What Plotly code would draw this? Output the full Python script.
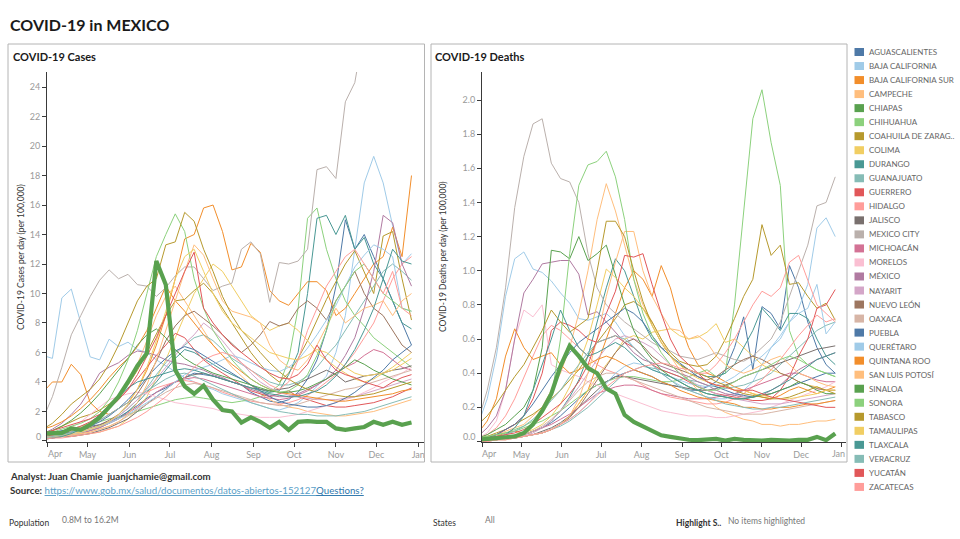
import plotly.graph_objects as go

W, H = 960, 539
def px(x): return x / W
def py(y): return 1 - y / H

# ---------------- data ----------------
dates = ["2020-03-29", "2020-04-05", "2020-04-12", "2020-04-19", "2020-04-26",
         "2020-05-03", "2020-05-10", "2020-05-17", "2020-05-24", "2020-05-31",
         "2020-06-07", "2020-06-14", "2020-06-21", "2020-06-28", "2020-07-05",
         "2020-07-12", "2020-07-19", "2020-07-26", "2020-08-02", "2020-08-09",
         "2020-08-16", "2020-08-23", "2020-08-30", "2020-09-06", "2020-09-13",
         "2020-09-20", "2020-09-27", "2020-10-04", "2020-10-11", "2020-10-18",
         "2020-10-25", "2020-11-01", "2020-11-08", "2020-11-15", "2020-11-22",
         "2020-11-29", "2020-12-06", "2020-12-13", "2020-12-20", "2020-12-27"]

states = ["AGUASCALIENTES", "BAJA CALIFORNIA", "BAJA CALIFORNIA SUR", "CAMPECHE", "CHIAPAS",
          "CHIHUAHUA", "COAHUILA DE ZARAG..", "COLIMA", "DURANGO", "GUANAJUATO", "GUERRERO",
          "HIDALGO", "JALISCO", "MEXICO CITY", "MICHOACÁN", "MORELOS", "MÉXICO", "NAYARIT",
          "NUEVO LEÓN", "OAXACA", "PUEBLA", "QUERÉTARO", "QUINTANA ROO", "SAN LUIS POTOSÍ",
          "SINALOA", "SONORA", "TABASCO", "TAMAULIPAS", "TLAXCALA", "VERACRUZ", "YUCATÁN",
          "ZACATECAS"]

colors = ["#4E79A7", "#A0CBE8", "#F28E2B", "#FFBE7D", "#59A14F", "#8CD17D", "#B6992D",
          "#F1CE63", "#499894", "#86BCB6", "#E15759", "#FF9D9A", "#79706E", "#BAB0AC",
          "#D37295", "#FABFD2", "#B07AA1", "#D4A6C8", "#9D7660", "#D7B5A6",
          "#4E79A7", "#A0CBE8", "#F28E2B", "#FFBE7D", "#59A14F", "#8CD17D", "#B6992D",
          "#F1CE63", "#499894", "#86BCB6", "#E15759", "#FF9D9A"]

highlighted = "CHIAPAS"

month_ticks = ["2020-04-01", "2020-05-01", "2020-06-01", "2020-07-01", "2020-08-01",
               "2020-09-01", "2020-10-01", "2020-11-01", "2020-12-01", "2021-01-01"]
month_labels = ["Apr", "May", "Jun", "Jul", "Aug", "Sep", "Oct", "Nov", "Dec", "Jan"]

cases_ticks = [0, 2, 4, 6, 8, 10, 12, 14, 16, 18, 20, 22, 24]
deaths_ticks = [0.0, 0.2, 0.4, 0.6, 0.8, 1.0, 1.2, 1.4, 1.6, 1.8, 2.0]

# cases per day per 100,000 (weekly)
cases_aguascalientes = [0.5,0.6,0.7,0.8,0.9, 1.0,1.1,1.3,1.6,2.0, 2.4,2.9,3.3,3.6,4.0, 4.3,4.6,4.5,4.4,4.2,
                        4.0,3.8,3.3,3.0,2.7, 2.6,2.8,3.3,4.2,5.5, 7.5,10.5,15.0,13.0,14.0, 12.5,11.0,9.5,8.0,6.5]
cases_baja_california = [5.8,5.6,9.7,10.3,8.0, 5.7,5.5,6.9,6.4,6.7, 6.2,6.0,5.5,5.1,4.7, 4.3,4.0,3.7,3.5,3.2,
                         3.0,2.8,2.6,2.4,2.2, 2.1,2.3,2.6,3.1,3.7, 4.4,6.0,8.5,13.0,17.5, 19.3,17.5,14.6,12.0,12.7]
cases_bcs = [3.3,4.0,4.0,5.2,4.5, 2.6,2.0,1.8,2.2,2.6, 3.5,4.8,6.5,8.5,11.0, 13.7,14.0,15.8,16.0,14.2,
             11.6,11.8,13.4,12.8,10.2, 9.5,9.2,10.0,10.8,10.8, 10.2,8.5,9.0,10.0,11.0, 12.0,12.5,14.5,12.5,18.0]
cases_campeche = [0.3,0.4,0.5,0.7,0.9, 1.2,1.6,2.2,3.0,4.0, 5.2,6.8,8.5,9.8,10.5, 9.5,8.5,7.5,6.5,5.8,
                  5.0,4.4,3.8,3.2,2.8, 2.5,2.3,2.2,2.0,1.9, 1.8,1.7,1.7,1.8,1.9, 2.0,2.2,2.4,2.6,2.8]
cases_chiapas = [0.5,0.5,0.55,0.85,0.75, 1.1,1.6,2.3,3.0,4.0, 5.1,5.95,12.2,10.6,4.8, 3.7,3.2,3.75,2.8,2.1,
                 2.0,1.25,1.6,1.3,0.9, 1.3,0.75,1.3,1.35,1.3, 1.3,0.85,0.75,0.85,0.95, 1.3,1.1,1.3,1.1,1.25]
cases_chihuahua = [0.4,0.5,0.6,0.8,1.0, 1.2,1.3,1.5,1.6,1.8, 2.0,2.2,2.4,2.6,2.8, 2.9,3.0,2.9,2.8,2.7,
                   2.6,2.7,2.8,3.0,3.3, 3.8,5.5,9.0,15.1,15.8, 13.0,11.0,9.5,8.5,7.8, 7.0,6.5,6.0,5.5,5.0]
cases_coahuila = [0.5,0.7,1.0,1.3,1.6, 1.8,2.1,2.5,3.0,3.8, 4.8,6.0,7.2,8.5,9.5, 9.6,10.2,10.7,10.0,9.0,
                  8.0,7.0,6.0,5.2,4.5, 4.0,4.6,5.6,6.8,8.2, 9.6,10.8,12.0,12.9,11.5, 10.0,13.9,14.2,11.0,8.2]
cases_colima = [0.2,0.2,0.3,0.3,0.4, 0.5,0.6,0.8,1.0,1.5, 2.2,3.0,4.2,5.5,7.0, 8.5,10.0,11.0,12.0,11.5,
                10.5,9.5,8.5,8.0,7.5, 7.8,8.0,7.5,6.8,6.0, 5.5,5.0,4.6,4.2,4.0, 4.2,4.6,5.0,5.5,6.0]
cases_durango = [0.2,0.3,0.3,0.4,0.5, 0.7,0.9,1.2,1.5,2.0, 2.6,3.3,4.0,4.8,5.6, 6.2,6.0,5.6,5.2,4.8,
                 4.5,4.2,3.8,3.5,3.3, 3.4,4.5,6.0,10.0,15.1, 15.3,14.0,15.3,13.0,13.8, 12.0,11.0,9.5,8.0,7.6]
cases_guanajuato = [0.2,0.3,0.4,0.5,0.6, 0.8,1.0,1.3,1.7,2.2, 2.8,3.6,4.5,5.3,6.0, 6.5,7.0,7.2,6.8,6.2,
                    5.6,5.2,4.8,4.4,4.0, 3.8,3.8,4.0,4.4,5.0, 5.8,6.5,7.5,8.5,9.5, 10.5,11.5,12.0,11.5,10.9]
cases_guerrero = [0.3,0.4,0.6,0.8,1.0, 1.3,1.7,2.2,2.8,3.5, 4.2,5.0,5.8,6.5,7.3, 7.0,6.2,5.5,5.0,4.6,
                  4.2,3.8,3.4,3.2,3.0, 3.2,3.4,3.0,2.8,2.6, 2.4,2.3,2.3,2.4,2.5, 2.6,2.8,3.0,3.3,3.6]
cases_hidalgo = [0.3,0.4,0.5,0.7,0.9, 1.1,1.4,1.8,2.2,2.6, 3.0,3.3,3.6,3.8,4.0, 4.1,4.0,3.8,3.6,3.3,
                 3.1,2.9,2.7,2.6,2.5, 2.5,2.6,2.8,3.1,3.5, 4.0,4.5,5.2,6.0,7.0, 8.0,9.5,11.0,12.0,12.5]
cases_jalisco = [0.1,0.2,0.3,0.3,0.4, 0.5,0.7,0.9,1.2,1.5, 2.0,2.5,3.0,3.5,4.0, 4.3,4.5,4.6,4.4,4.2,
                 4.0,3.8,3.6,3.5,3.4, 3.5,3.6,3.9,4.2,4.5, 4.8,4.5,4.0,4.2,4.4, 4.5,4.6,4.8,4.9,5.1]
cases_mexico_city = [1.5,3.0,5.0,7.2,8.5, 9.8,10.9,11.6,11.0,11.3, 10.6,10.5,9.8,10.4,11.2, 11.8,11.8,11.0,10.2,10.5,
                     10.7,13.0,13.5,12.7,9.4, 12.1,12.0,12.2,13.0,18.4, 18.6,17.8,23.0,24.3,28.0, 30.0,33.0,35.0,37.0,38.0]
cases_michoacan = [0.2,0.2,0.3,0.4,0.5, 0.7,0.9,1.2,1.5,1.9, 2.3,2.8,3.3,3.7,4.0, 4.2,4.3,4.2,4.0,3.8,
                   3.6,3.4,3.2,3.0,2.9, 2.8,2.9,3.1,3.4,3.8, 4.2,4.6,5.0,5.3,5.8, 6.2,6.0,5.5,5.0,4.8]
cases_morelos = [0.3,0.4,0.6,0.9,1.3, 1.8,2.3,2.8,3.0,3.2, 3.3,3.2,3.0,2.8,2.6, 2.5,2.4,2.3,2.2,2.0,
                 1.9,1.8,1.7,1.6,1.6, 1.6,1.7,1.8,2.0,2.2, 2.4,2.6,2.8,3.0,3.3, 3.6,4.0,4.3,4.6,5.0]
cases_mexico = [0.5,0.8,1.2,1.8,2.5, 3.5,4.6,5.0,5.3,5.8, 6.1,6.0,5.8,5.5,5.3, 5.2,5.0,4.8,4.5,4.3,
                4.0,3.8,3.5,3.3,3.1, 3.0,3.0,3.2,3.5,3.8, 4.2,4.8,5.8,7.0,9.0, 11.5,15.3,14.8,12.0,10.5]
cases_nayarit = [0.2,0.3,0.4,0.5,0.6, 0.8,1.0,1.3,1.7,2.2, 2.8,3.5,4.2,5.0,5.8, 6.6,7.2,8.0,7.5,6.8,
                 6.0,5.3,4.6,4.0,3.6, 3.3,3.1,3.0,2.9,2.8, 2.8,2.8,2.9,3.0,3.2, 3.4,3.6,3.8,4.0,4.2]
cases_nuevo_leon = [0.3,0.4,0.5,0.6,0.7, 0.9,1.1,1.4,1.8,2.4, 3.2,4.2,5.4,6.8,7.8, 8.5,8.8,8.3,7.8,7.2,
                    6.6,6.0,6.5,7.2,8.1, 7.8,8.0,9.0,9.5,9.0, 8.2,9.5,10.5,11.5,10.0, 9.0,8.5,7.5,6.5,6.0]
cases_oaxaca = [0.1,0.2,0.3,0.4,0.5, 0.6,0.8,1.0,1.3,1.7, 2.1,2.5,2.9,3.3,3.6, 3.8,3.9,3.8,3.6,3.4,
                3.2,3.0,2.8,2.6,2.5, 2.4,2.4,2.5,2.7,2.9, 3.1,3.3,3.5,3.6,3.8, 4.0,4.2,4.4,4.6,4.8]
cases_puebla = [0.2,0.3,0.4,0.6,0.8, 1.0,1.3,1.7,2.2,2.8, 3.5,4.3,5.0,5.6,6.1, 6.4,6.2,5.8,5.4,5.0,
                4.6,4.2,3.8,3.4,3.0, 2.7,2.5,2.4,2.3,2.3, 2.4,2.6,2.9,3.3,3.8, 4.3,4.8,5.5,6.0,6.5]
cases_queretaro = [0.2,0.3,0.4,0.5,0.6, 0.8,1.0,1.2,1.5,1.8, 2.2,2.6,3.0,3.5,4.0, 4.5,4.8,5.0,5.2,5.5,
                   5.8,5.6,5.3,5.0,4.8, 4.7,5.0,5.5,6.3,7.2, 8.2,9.2,10.5,11.8,12.6, 13.3,13.0,12.5,9.0,8.8]
cases_quintana_roo = [0.8,1.0,1.3,1.7,2.2, 2.8,3.5,4.3,5.0,5.6, 6.4,7.5,9.0,10.5,9.5, 8.8,8.0,7.2,6.5,5.8,
                      5.2,4.7,4.2,3.8,3.5, 3.3,3.2,3.1,3.0,2.9, 2.8,2.7,2.7,2.8,2.9, 3.0,3.1,3.2,3.4,3.5]
cases_slp = [0.2,0.3,0.3,0.4,0.5, 0.6,0.8,1.0,1.3,1.8, 2.6,3.8,5.5,7.5,9.5, 11.5,13.3,12.6,11.0,9.5,
             8.8,8.6,8.4,8.0,6.5, 5.5,5.0,4.8,5.5,6.5, 7.8,9.0,8.0,8.5,9.0, 9.2,9.5,8.5,9.5,10.0]
cases_sinaloa = [0.5,0.7,1.0,1.4,1.9, 2.5,3.2,4.0,4.8,5.6, 6.5,7.2,7.6,7.0,6.2, 5.6,5.2,4.9,4.6,4.4,
                 4.2,4.0,3.8,3.6,3.4, 3.3,3.3,3.4,3.6,3.9, 4.2,4.6,5.0,5.5,5.2, 4.8,4.5,4.2,4.0,3.8]
cases_sonora = [0.4,0.6,0.8,1.0,1.2, 1.5,2.0,2.8,4.0,5.5, 7.5,10.0,12.5,14.0,15.4, 14.2,11.0,9.0,7.5,6.5,
                5.5,4.8,4.2,3.8,3.5, 3.3,3.4,3.8,4.5,5.8, 7.5,9.5,10.5,11.5,12.0, 11.0,10.0,9.5,9.0,8.8]
cases_tabasco = [0.8,1.2,1.8,2.5,3.0, 3.5,4.2,5.2,6.5,8.0, 9.5,10.5,11.0,13.3,13.5, 15.5,14.9,13.0,11.5,9.8,
                 8.5,7.5,6.8,6.0,5.3, 4.7,4.2,3.8,3.5,3.3, 3.2,3.1,3.0,3.0,3.1, 3.2,3.4,3.6,3.8,4.0]
cases_tamaulipas = [0.2,0.3,0.4,0.5,0.6, 0.8,1.0,1.3,1.8,2.5, 3.5,5.0,6.8,8.8,11.0, 12.5,13.0,11.5,10.0,8.8,
                    8.0,7.5,7.0,6.5,6.0, 5.8,5.6,5.5,5.8,6.2, 6.0,5.5,5.0,4.6,4.4, 4.5,4.6,4.8,5.2,5.6]
cases_tlaxcala = [0.1,0.2,0.3,0.5,0.8, 1.2,1.8,2.4,3.0,3.6, 4.0,4.2,4.4,4.6,4.8, 4.9,4.8,4.6,4.4,4.2,
                  4.0,3.8,3.6,3.4,3.2, 3.1,3.0,3.0,3.2,3.4, 3.8,4.4,5.2,6.2,7.5, 9.0,11.0,13.0,12.2,12.0]
cases_veracruz = [0.2,0.3,0.4,0.6,0.8, 1.1,1.4,1.8,2.2,2.6, 3.0,3.4,3.8,4.2,4.5, 4.6,4.4,4.1,3.8,3.5,
                  3.2,2.9,2.6,2.4,2.2, 2.0,1.9,1.8,1.8,1.7, 1.7,1.7,1.8,1.9,2.0, 2.2,2.4,2.6,2.8,3.0]
cases_yucatan = [0.5,0.7,0.9,1.1,1.3, 1.5,1.8,2.2,2.8,3.5, 4.5,5.8,7.0,8.5,10.0, 11.5,12.8,9.0,8.0,7.2,
                 6.5,6.0,5.5,5.0,4.6, 4.3,4.2,4.5,5.2,6.5, 5.5,4.8,4.5,4.3,4.0, 3.8,3.6,4.0,4.3,4.5]
cases_zacatecas = [0.1,0.2,0.2,0.3,0.4, 0.5,0.6,0.8,1.0,1.3, 1.6,2.0,2.5,3.0,3.6, 4.3,5.0,5.5,5.8,6.0,
                   5.8,5.3,4.8,4.3,3.8, 3.5,4.0,5.5,7.5,9.0, 10.5,11.5,12.5,13.0,12.0, 11.0,10.0,11.5,9.0,8.5]

# deaths per day per 100,000 (weekly)
deaths_aguascalientes = [0.0,0.01,0.01,0.02,0.03, 0.04,0.06,0.08,0.11,0.15, 0.2,0.25,0.3,0.33,0.35, 0.38,0.4,0.42,0.4,0.38,
                         0.35,0.33,0.32,0.3,0.3, 0.32,0.35,0.42,0.55,0.73, 0.42,0.79,0.75,0.66,1.03, 0.9,0.7,0.55,0.45,0.4]
deaths_baja_california = [0.1,0.25,0.5,0.85,1.07, 1.11,1.01,0.99,0.94,0.87, 0.81,0.72,0.71,0.73,0.75, 0.7,0.62,0.55,0.5,0.45,
                          0.4,0.36,0.33,0.3,0.28, 0.26,0.25,0.25,0.27,0.3, 0.35,0.45,0.55,0.6,0.7, 0.78,0.92,1.25,1.31,1.2]
deaths_bcs = [0.0,0.01,0.03,0.05,0.06, 0.05,0.04,0.05,0.07,0.1, 0.15,0.22,0.3,0.45,0.6, 0.75,0.9,1.0,0.95,0.85,
              1.03,0.9,0.7,0.55,0.45, 0.4,0.38,0.35,0.32,0.3, 0.28,0.26,0.25,0.27,0.3, 0.32,0.3,0.28,0.3,0.32]
deaths_campeche = [0.0,0.02,0.04,0.06,0.08, 0.1,0.15,0.2,0.3,0.4, 0.55,0.75,1.0,1.3,1.51, 1.35,1.15,0.95,0.8,0.7,
                   0.6,0.5,0.42,0.36,0.3, 0.25,0.2,0.17,0.15,0.13, 0.12,0.1,0.1,0.09,0.1, 0.1,0.11,0.12,0.12,0.13]
deaths_chiapas = [0.01,0.012,0.02,0.025,0.03, 0.05,0.1,0.18,0.28,0.44, 0.56,0.5,0.43,0.4,0.31, 0.28,0.155,0.115,0.087,0.065,
                  0.036,0.027,0.017,0.01,0.008, 0.01,0.015,0.005,0.015,0.01, 0.005,0.005,0.01,0.005,0.005, 0.01,0.01,0.027,0.008,0.047]
deaths_chihuahua = [0.02,0.03,0.04,0.05,0.06, 0.08,0.1,0.12,0.15,0.18, 0.22,0.26,0.3,0.33,0.35, 0.37,0.38,0.38,0.37,0.36,
                    0.35,0.35,0.36,0.38,0.4, 0.42,0.38,0.4,0.8,1.35, 1.89,2.06,1.75,1.5,0.65, 0.5,0.45,0.42,0.4,0.38]
deaths_coahuila = [0.02,0.03,0.05,0.07,0.1, 0.13,0.16,0.2,0.25,0.3, 0.36,0.42,0.5,0.58,0.65, 0.72,0.8,0.82,0.78,0.7,
                   0.6,0.52,0.47,0.45,0.44, 0.45,0.5,0.6,0.72,0.85, 0.95,1.27,1.09,1.15,0.92, 0.93,0.85,0.78,0.81,0.71]
deaths_colima = [0.0,0.0,0.01,0.01,0.02, 0.03,0.04,0.05,0.07,0.1, 0.15,0.22,0.3,0.38,0.45, 0.52,0.6,0.62,0.6,0.64,
                 0.65,0.66,0.62,0.6,0.61, 0.64,0.69,0.58,0.6,0.55, 0.5,0.45,0.42,0.4,0.38, 0.35,0.33,0.32,0.3,0.3]
deaths_durango = [0.0,0.01,0.01,0.02,0.03, 0.04,0.06,0.08,0.12,0.18, 0.26,0.36,0.5,0.7,0.9, 1.07,1.0,0.85,0.7,0.6,
                  0.55,0.5,0.45,0.42,0.4, 0.38,0.38,0.4,0.45,0.55, 0.65,0.78,0.72,0.65,0.75, 0.75,0.72,0.6,0.5,0.45]
deaths_guanajuato = [0.0,0.01,0.01,0.02,0.02, 0.03,0.04,0.05,0.07,0.09, 0.12,0.16,0.2,0.25,0.3, 0.35,0.4,0.42,0.44,0.43,
                     0.42,0.4,0.38,0.36,0.35, 0.33,0.32,0.31,0.32,0.33, 0.35,0.37,0.4,0.45,0.5, 0.55,0.6,0.65,0.68,0.7]
deaths_guerrero = [0.01,0.02,0.04,0.07,0.1, 0.15,0.25,0.4,0.65,0.7, 0.68,0.65,0.6,0.58,0.6, 0.62,0.58,0.55,0.5,0.45,
                   0.42,0.4,0.38,0.35,0.32, 0.3,0.28,0.27,0.26,0.25, 0.24,0.24,0.25,0.3,0.38, 0.5,0.6,0.78,0.8,0.89]
deaths_hidalgo = [0.02,0.04,0.08,0.15,0.25, 0.38,0.5,0.62,0.68,0.65, 0.6,0.55,0.5,0.45,0.42, 0.4,0.38,0.36,0.33,0.3,
                  0.28,0.26,0.25,0.24,0.23, 0.22,0.22,0.23,0.25,0.28, 0.32,0.36,0.42,0.48,0.55, 0.62,0.68,0.74,0.7,0.72]
deaths_jalisco = [0.0,0.01,0.01,0.02,0.02, 0.03,0.04,0.06,0.08,0.11, 0.15,0.2,0.25,0.3,0.35, 0.38,0.38,0.37,0.36,0.35,
                  0.34,0.33,0.32,0.31,0.3, 0.3,0.31,0.33,0.35,0.38, 0.4,0.42,0.44,0.46,0.48, 0.5,0.52,0.54,0.55,0.56]
deaths_mexico_city = [0.12,0.3,0.55,0.9,1.37, 1.67,1.86,1.89,1.63,1.54, 1.52,1.4,1.1,0.9,0.8, 0.75,0.7,0.66,0.62,0.58,
                      0.55,0.53,0.5,0.49,0.48, 0.5,0.52,0.5,0.48,0.47, 0.5,0.55,0.6,0.7,0.85, 1.0,1.15,1.38,1.4,1.55]
deaths_michoacan = [0.0,0.01,0.01,0.02,0.03, 0.04,0.06,0.08,0.1,0.13, 0.16,0.2,0.24,0.28,0.3, 0.32,0.33,0.33,0.32,0.3,
                    0.28,0.27,0.26,0.25,0.25, 0.25,0.26,0.27,0.28,0.3, 0.32,0.34,0.36,0.38,0.4, 0.4,0.38,0.36,0.35,0.35]
deaths_morelos = [0.02,0.05,0.12,0.3,0.6, 0.77,0.73,0.8,0.45,0.42, 0.4,0.38,0.35,0.33,0.3, 0.28,0.26,0.24,0.22,0.2,
                  0.18,0.17,0.16,0.15,0.15, 0.15,0.14,0.14,0.15,0.16, 0.17,0.18,0.2,0.22,0.24, 0.26,0.28,0.3,0.32,0.35]
deaths_mexico = [0.03,0.08,0.15,0.3,0.6, 0.87,0.95,1.04,1.05,1.06, 1.06,0.98,0.74,0.76,0.7, 0.64,0.58,0.52,0.48,0.46,
                 0.44,0.42,0.4,0.38,0.35, 0.33,0.3,0.28,0.27,0.26, 0.26,0.27,0.3,0.33,0.38, 0.42,0.45,0.48,0.5,0.52]
deaths_nayarit = [0.0,0.0,0.01,0.01,0.02, 0.03,0.05,0.08,0.12,0.18, 0.25,0.32,0.4,0.48,0.55, 0.6,0.62,0.6,0.58,0.55,
                  0.5,0.45,0.4,0.36,0.33, 0.3,0.28,0.26,0.25,0.24, 0.23,0.22,0.22,0.22,0.23, 0.24,0.25,0.26,0.27,0.28]
deaths_nuevo_leon = [0.0,0.01,0.01,0.02,0.02, 0.03,0.04,0.05,0.07,0.1, 0.14,0.2,0.28,0.36,0.44, 0.52,0.58,0.6,0.56,0.5,
                     0.46,0.44,0.42,0.4,0.38, 0.36,0.38,0.42,0.45,0.48, 0.5,0.48,0.45,0.4,0.38, 0.35,0.33,0.31,0.3,0.3]
deaths_oaxaca = [0.0,0.01,0.01,0.02,0.03, 0.04,0.06,0.09,0.13,0.18, 0.24,0.3,0.35,0.38,0.4, 0.4,0.38,0.36,0.34,0.32,
                 0.3,0.28,0.26,0.24,0.22, 0.2,0.19,0.18,0.17,0.16, 0.16,0.16,0.17,0.18,0.19, 0.2,0.21,0.22,0.23,0.24]
deaths_puebla = [0.01,0.02,0.04,0.07,0.1, 0.15,0.22,0.3,0.38,0.45, 0.52,0.58,0.62,0.66,0.7, 0.74,0.78,0.75,0.7,0.62,
                 0.55,0.5,0.46,0.42,0.38, 0.35,0.32,0.3,0.28,0.27, 0.26,0.27,0.28,0.3,0.32, 0.34,0.36,0.38,0.4,0.4]
deaths_queretaro = [0.0,0.01,0.01,0.02,0.02, 0.03,0.04,0.05,0.07,0.1, 0.13,0.17,0.22,0.28,0.34, 0.4,0.44,0.46,0.45,0.42,
                    0.4,0.38,0.36,0.34,0.33, 0.32,0.33,0.35,0.38,0.42, 0.46,0.5,0.55,0.62,0.7, 0.75,0.78,0.92,0.63,0.7]
deaths_quintana_roo = [0.05,0.12,0.25,0.5,0.66, 0.55,0.48,0.5,0.52,0.45, 0.4,0.42,0.45,0.48,0.5, 0.48,0.45,0.42,0.4,0.38,
                       0.35,0.33,0.3,0.28,0.26, 0.25,0.24,0.23,0.22,0.2, 0.2,0.19,0.19,0.2,0.2, 0.21,0.22,0.22,0.23,0.24]
deaths_slp = [0.0,0.01,0.01,0.02,0.02, 0.03,0.04,0.05,0.07,0.1, 0.15,0.25,0.4,0.6,0.85, 1.05,1.23,1.23,1.0,0.85,
              0.75,0.66,0.65,0.6,0.62, 0.58,0.5,0.45,0.42,0.4, 0.42,0.45,0.48,0.5,0.45, 0.4,0.38,0.35,0.33,0.32]
deaths_sinaloa = [0.02,0.04,0.07,0.1,0.15, 0.2,0.3,0.55,1.12,1.11, 1.07,1.2,1.06,1.1,1.15, 0.98,0.8,0.65,0.55,0.48,
                  0.42,0.38,0.35,0.32,0.3, 0.28,0.27,0.26,0.25,0.25, 0.26,0.27,0.28,0.3,0.32, 0.35,0.33,0.3,0.28,0.28]
deaths_sonora = [0.02,0.03,0.04,0.05,0.07, 0.09,0.12,0.16,0.25,0.6, 1.1,1.5,1.62,1.64,1.7, 1.55,1.3,0.95,0.75,0.62,
                 0.52,0.45,0.4,0.36,0.32, 0.3,0.3,0.32,0.35,0.38, 0.4,0.42,0.45,0.48,0.5, 0.48,0.45,0.42,0.4,0.38]
deaths_tabasco = [0.1,0.15,0.22,0.3,0.38, 0.45,0.55,0.65,0.77,0.7, 0.64,0.68,0.72,1.0,1.29, 1.29,1.2,1.0,0.82,0.68,
                  0.58,0.5,0.45,0.42,0.4, 0.38,0.35,0.33,0.3,0.28, 0.27,0.26,0.25,0.25,0.26, 0.28,0.3,0.32,0.3,0.28]
deaths_tamaulipas = [0.0,0.01,0.01,0.02,0.03, 0.05,0.07,0.1,0.15,0.22, 0.32,0.45,0.6,0.8,1.01, 0.96,0.9,0.85,0.78,0.68,
                     0.58,0.5,0.45,0.4,0.37, 0.35,0.33,0.32,0.3,0.3, 0.28,0.27,0.26,0.25,0.25, 0.26,0.27,0.28,0.3,0.3]
deaths_tlaxcala = [0.0,0.01,0.02,0.04,0.08, 0.15,0.3,0.45,0.6,0.77, 0.65,0.55,0.5,0.52,0.55, 0.58,0.55,0.5,0.45,0.42,
                   0.4,0.38,0.35,0.32,0.3, 0.28,0.27,0.26,0.25,0.25, 0.26,0.28,0.3,0.33,0.36, 0.4,0.44,0.48,0.5,0.52]
deaths_veracruz = [0.01,0.02,0.03,0.04,0.06, 0.09,0.13,0.18,0.24,0.3, 0.38,0.45,0.52,0.58,0.6, 0.62,0.6,0.55,0.5,0.45,
                   0.4,0.36,0.32,0.3,0.28, 0.26,0.24,0.22,0.21,0.2, 0.19,0.19,0.2,0.2,0.21, 0.22,0.23,0.24,0.25,0.26]
deaths_yucatan = [0.01,0.02,0.03,0.04,0.05, 0.07,0.1,0.14,0.18,0.22, 0.28,0.35,0.45,0.6,0.75, 0.88,1.09,1.08,1.1,0.92,
                  0.75,0.6,0.5,0.45,0.4, 0.35,0.33,0.32,0.3,0.3, 0.3,0.28,0.26,0.25,0.24, 0.23,0.22,0.21,0.2,0.2]
deaths_zacatecas = [0.0,0.0,0.01,0.01,0.02, 0.03,0.04,0.05,0.07,0.1, 0.13,0.17,0.22,0.27,0.32, 0.36,0.4,0.42,0.44,0.45,
                    0.46,0.45,0.43,0.42,0.4, 0.4,0.45,0.52,0.6,0.7, 0.8,0.88,0.85,0.9,1.05, 1.09,0.95,0.8,0.75,0.7]

cases = [cases_aguascalientes, cases_baja_california, cases_bcs, cases_campeche, cases_chiapas,
         cases_chihuahua, cases_coahuila, cases_colima, cases_durango, cases_guanajuato, cases_guerrero,
         cases_hidalgo, cases_jalisco, cases_mexico_city, cases_michoacan, cases_morelos, cases_mexico,
         cases_nayarit, cases_nuevo_leon, cases_oaxaca, cases_puebla, cases_queretaro, cases_quintana_roo,
         cases_slp, cases_sinaloa, cases_sonora, cases_tabasco, cases_tamaulipas, cases_tlaxcala,
         cases_veracruz, cases_yucatan, cases_zacatecas]
deaths = [deaths_aguascalientes, deaths_baja_california, deaths_bcs, deaths_campeche, deaths_chiapas,
          deaths_chihuahua, deaths_coahuila, deaths_colima, deaths_durango, deaths_guanajuato, deaths_guerrero,
          deaths_hidalgo, deaths_jalisco, deaths_mexico_city, deaths_michoacan, deaths_morelos, deaths_mexico,
          deaths_nayarit, deaths_nuevo_leon, deaths_oaxaca, deaths_puebla, deaths_queretaro, deaths_quintana_roo,
          deaths_slp, deaths_sinaloa, deaths_sonora, deaths_tabasco, deaths_tamaulipas, deaths_tlaxcala,
          deaths_veracruz, deaths_yucatan, deaths_zacatecas]

for s, c, d in zip(states, cases, deaths):
    assert len(c) == len(dates), (s, "cases", len(c))
    assert len(d) == len(dates), (s, "deaths", len(d))

# ---------------- figure ----------------
FONT = "Lato"
fig = go.Figure()

order = [i for i, s in enumerate(states) if s != highlighted] + [states.index(highlighted)]
for i in order:
    thick = states[i] == highlighted
    w = 4.2 if thick else 1.0
    fig.add_trace(go.Scatter(x=dates, y=cases[i], mode="lines", name=states[i],
                             line=dict(color=colors[i], width=w), xaxis="x", yaxis="y",
                             showlegend=False))
    fig.add_trace(go.Scatter(x=dates, y=deaths[i], mode="lines", name=states[i],
                             line=dict(color=colors[i], width=w), xaxis="x2", yaxis="y2",
                             showlegend=False))

ydom = [py(442), py(72)]
TICK_GRAY = "#9a9a9a"
axis_common = dict(showline=True, linecolor="#3a3a3a", linewidth=1, ticks="outside", ticklen=4,
                   tickcolor="#3a3a3a", tickwidth=1, showgrid=False, zeroline=False, automargin=False,
                   tickfont=dict(family=FONT, size=9, color=TICK_GRAY), fixedrange=True)

# first / last labels are placed by hand (nudged inside, as in the original)
cases_xlabels = [""] + month_labels[1:]
deaths_xlabels = [""] + month_labels[1:-1] + [""]
cases_ylabels = [""] + [str(v) for v in cases_ticks[1:]]
deaths_ylabels = [""] + [f"{v:.1f}" for v in deaths_ticks[1:]]

fig.update_layout(
    width=W, height=H, margin=dict(l=0, r=0, t=0, b=0, pad=0, autoexpand=False), autosize=False,
    paper_bgcolor="white", plot_bgcolor="white", showlegend=False,
    font=dict(family=FONT),
    xaxis=dict(domain=[px(47), px(424)], range=["2020-04-01", "2021-01-05 06:00"],
               tickvals=month_ticks, ticktext=cases_xlabels, anchor="y", **axis_common),
    yaxis=dict(domain=ydom, range=[-0.07, 25.02], tickvals=cases_ticks,
               ticktext=cases_ylabels, anchor="x", **axis_common),
    xaxis2=dict(domain=[px(482), px(845.5)], range=["2020-04-01", "2021-01-03 20:00"],
                tickvals=month_ticks, ticktext=deaths_xlabels, anchor="y2", **axis_common),
    yaxis2=dict(domain=ydom, range=[-0.003, 2.164], tickvals=deaths_ticks,
                ticktext=deaths_ylabels, anchor="x2", **axis_common),
)

shapes = [
    dict(type="rect", xref="paper", yref="paper", x0=px(8), x1=px(424.5), y0=py(462), y1=py(44),
         line=dict(color="#b4b4b4", width=1)),
    dict(type="rect", xref="paper", yref="paper", x0=px(431), x1=px(847), y0=py(462), y1=py(44),
         line=dict(color="#b4b4b4", width=1)),
]
ann = []
def text(x, y, t, size, color="#333333", anchor="left", angle=0):
    ann.append(dict(x=px(x), y=py(y), xref="paper", yref="paper", text=t, showarrow=False,
                    xanchor=anchor, yanchor="middle", textangle=angle, borderpad=0,
                    font=dict(family=FONT, size=size, color=color)))

text(9, 24, "<b>COVID-19 in MEXICO</b>", 16, "#1a1a1a")
text(12, 57, "<b>COVID-19 Cases</b>", 11, "#1a1a1a")
text(434, 57, "<b>COVID-19 Deaths</b>", 11, "#1a1a1a")
text(21, 257, "COVID-19 Cases per day (per 100,000)", 8.5, "#333333", "center", -90)
text(443, 257, "COVID-19 Deaths per day (per 100,000)", 8.5, "#333333", "center", -90)

# hand-placed edge tick labels
text(55, 453, month_labels[0], 9, TICK_GRAY, "center")
text(490, 453, month_labels[0], 9, TICK_GRAY, "center")
text(838, 453, month_labels[-1], 9, TICK_GRAY, "center")
text(41.5, 436, str(cases_ticks[0]), 9, TICK_GRAY, "right")
text(476.5, 436, f"{deaths_ticks[0]:.1f}", 9, TICK_GRAY, "right")

# legend
for i, (s, c) in enumerate(zip(states, colors)):
    yc = 52 + i * 14.03
    shapes.append(dict(type="rect", xref="paper", yref="paper", x0=px(854.5), x1=px(864),
                       y0=py(yc + 4), y1=py(yc - 4), fillcolor=c, line=dict(width=0)))
    text(867.5, yc, s, 8, "#666666")

# footer
text(9, 476, "<b>Analyst: Juan Chamie  juanjchamie@gmail.com</b>", 9.7, "#333333")
text(9, 490, "<b>Source:</b> <span style='color:#5b9fc8'><u>https://www.gob.mx/salud/documentos/datos-abiertos-152127</u></span>"
             "<span style='color:#2f78ad'><u>Questions?</u></span>", 9.7, "#333333")
text(8, 523, "Population", 8.5, "#333333")
text(61, 520, "0.8M to 16.2M", 8.5, "#777777")
text(432, 523, "States", 8.5, "#333333")
text(484, 520, "All", 8.5, "#777777")
text(675, 523, "<b>Highlight S..</b>", 8.5, "#333333")
text(727, 521, "No items highlighted", 8.5, "#777777")

fig.update_layout(shapes=shapes, annotations=ann)

page_fix = (
    "document.documentElement.style.margin='0';document.documentElement.style.padding='0';"
    "document.documentElement.style.overflow='hidden';"
    "document.body.style.margin='0';document.body.style.padding='0';document.body.style.overflow='hidden';"
    "var gd=document.getElementById('{plot_id}');gd.style.position='fixed';gd.style.left='0px';gd.style.top='0px';"
)
fig.write_html("out.html", config={"displayModeBar": False, "responsive": False},
               post_script=page_fix)
